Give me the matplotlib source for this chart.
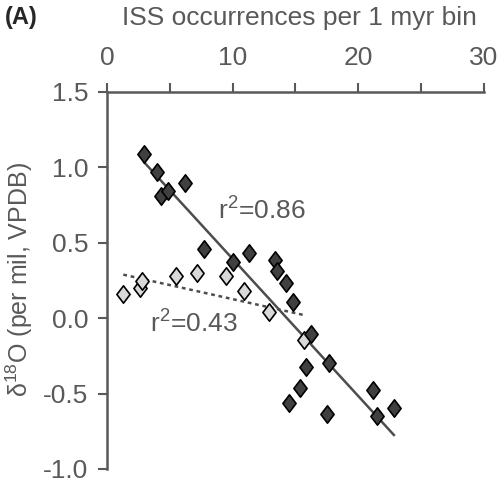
import numpy as np
import matplotlib.pyplot as plt
from matplotlib.path import Path

# ISS occurrences per bin vs d18O
dark_x = [2.97, 4.00, 4.30, 4.88, 6.18, 7.69, 10.0, 11.32, 13.37, 13.55, 14.22,
          14.82, 16.2, 17.69, 15.86, 15.35, 14.5, 17.53, 21.19, 21.5, 22.83]
dark_y = [1.084, 0.965, 0.81, 0.841, 0.892, 0.459, 0.373, 0.432, 0.384, 0.313, 0.234,
          0.104, -0.106, -0.296, -0.326, -0.466, -0.561, -0.636, -0.477, -0.649, -0.598]

light_x = [1.30, 2.63, 2.81, 5.51, 7.16, 9.47, 10.88, 12.89, 15.67]
light_y = [0.157, 0.197, 0.247, 0.278, 0.30, 0.28, 0.181, 0.038, -0.146]

gray = "#595959"
plt.rcParams['font.family'] = ['Liberation Sans', 'DejaVu Sans']
plt.rcParams['mathtext.fontset'] = 'custom'
plt.rcParams['mathtext.rm'] = 'Liberation Sans'

fig = plt.figure(figsize=(5.03, 4.86), dpi=100)
ax = fig.add_axes([0.2127, 0.035, 0.7495, 0.7765])

diamond = Path([(0, 1), (0.76, 0), (0, -1), (-0.76, 0), (0, 1)],
               [Path.MOVETO, Path.LINETO, Path.LINETO, Path.LINETO, Path.CLOSEPOLY])

# regression lines
p1 = np.polyfit(dark_x, dark_y, 1)
xs1 = np.array([min(dark_x), max(dark_x)])
ax.plot(xs1, np.polyval(p1, xs1), '-', color="#4d4d4d", lw=1.8, zorder=2)
p2 = np.polyfit(light_x, light_y, 1)
xs2 = np.array([min(light_x), max(light_x)])
ax.plot(xs2, np.polyval(p2, xs2), linestyle=(0, (1.5, 1.5)), color="#4d4d4d", lw=1.8, zorder=2)

ax.plot(light_x, light_y, linestyle='none', marker=diamond, markersize=12.5,
        markerfacecolor="#d9d9d9", markeredgecolor="black", markeredgewidth=1.2, zorder=3)
ax.plot(dark_x, dark_y, linestyle='none', marker=diamond, markersize=12.5,
        markerfacecolor="#404040", markeredgecolor="black", markeredgewidth=1.2, zorder=4)

ax.text(8.8, 0.72, "r$^\\mathregular{2}$=0.86", fontsize=19, color=gray, va='center')
ax.text(3.4, -0.03, "r$^\\mathregular{2}$=0.43", fontsize=19, color=gray, va='center')

ax.set_xlim(0, 30)
ax.set_ylim(-1.0, 1.5)
ax.xaxis.tick_top()
ax.set_xticks([0, 10, 20, 30])
ax.set_xticks([5, 15, 25], minor=True)
ax.set_yticks([1.5, 1.0, 0.5, 0.0, -0.5, -1.0])
ax.set_yticklabels(["1.5", "1.0", "0.5", "0.0", "-0.5", "-1.0"])
ax.tick_params(axis='both', which='both', direction='out', length=6.5, width=1.5,
               color=gray, labelcolor=gray, labelsize=19)
ax.tick_params(axis='y', which='both', pad=7)
ax.tick_params(axis='x', which='both', pad=9)
for s in ['bottom', 'right']:
    ax.spines[s].set_visible(False)
for s in ['top', 'left']:
    ax.spines[s].set_color(gray)
    ax.spines[s].set_linewidth(1.8)

ax.set_ylabel("δ$^\\mathregular{18}$O (per mil, VPDB)", fontsize=18, color=gray)
ax.yaxis.set_label_coords(-0.19, 0.503)
fig.text(0.595, 0.963, "ISS occurrences per 1 myr bin", fontsize=19, color=gray,
         ha='center', va='center')
fig.text(0.01, 0.963, "(A)", fontsize=17, fontweight='bold', color="#262626",
         ha='left', va='center')

fig.savefig("out.png", dpi=100)
